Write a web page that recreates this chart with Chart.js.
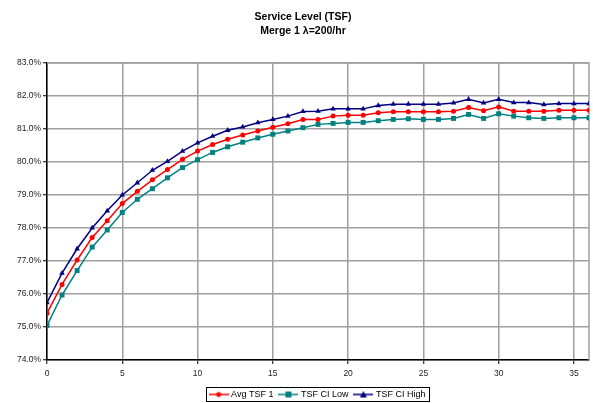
<!DOCTYPE html>
<html>
<head>
<meta charset="utf-8">
<script src="https://cdn.jsdelivr.net/npm/chart.js@4"></script>
<style>
  body { margin: 0; background: #fff; }
  #wrap { width: 593px; height: 403px; }
</style>
</head>
<body>
<div id="wrap"><canvas id="chart" width="593" height="403"></canvas></div>
<script>
// periods 0..36
const steps = [0,1,2,3,4,5,6,7,8,9,10,11,12,13,14,15,16,17,18,19,20,21,22,23,24,25,26,27,28,29,30,31,32,33,34,35,36];

const avgTsf = [75.42, 76.29, 77.03, 77.71, 78.22, 78.74, 79.11, 79.46, 79.77, 80.08, 80.33, 80.53, 80.69, 80.82, 80.94, 81.05, 81.16, 81.29, 81.29, 81.39, 81.42, 81.42, 81.49, 81.52, 81.52, 81.52, 81.52, 81.54, 81.65, 81.55, 81.67, 81.54, 81.54, 81.54, 81.57, 81.57, 81.57];
const ciLow = [75.05, 75.97, 76.71, 77.42, 77.94, 78.47, 78.87, 79.19, 79.52, 79.83, 80.07, 80.29, 80.46, 80.60, 80.73, 80.84, 80.94, 81.04, 81.14, 81.17, 81.20, 81.20, 81.25, 81.29, 81.31, 81.29, 81.29, 81.32, 81.44, 81.32, 81.46, 81.39, 81.34, 81.32, 81.34, 81.34, 81.34];
const ciHigh = [75.74, 76.63, 77.37, 78.00, 78.52, 79.00, 79.37, 79.75, 80.02, 80.33, 80.58, 80.78, 80.96, 81.06, 81.19, 81.29, 81.39, 81.53, 81.54, 81.61, 81.61, 81.61, 81.71, 81.75, 81.75, 81.75, 81.75, 81.79, 81.90, 81.79, 81.90, 81.80, 81.80, 81.74, 81.77, 81.77, 81.77];

const seriesNames = ['Avg TSF 1', 'TSF CI Low', 'TSF CI High'];
const yMin = 74, yMax = 83;
const xMax = 36;

// little line+marker icons for the legend (wider than the box so the line runs close to the text)
function legendIcon(color, shape) {
    const c = document.createElement('canvas');
    c.width = 20; c.height = 8;
    const g = c.getContext('2d');
    g.strokeStyle = color; g.fillStyle = color; g.lineWidth = 1.5;
    g.beginPath(); g.moveTo(0, 4); g.lineTo(20, 4); g.stroke();
    g.beginPath();
    if (shape === 'circle') g.arc(10, 4, 2.5, 0, Math.PI * 2);
    else if (shape === 'rect') g.rect(7, 1, 6, 6);
    else { g.moveTo(10, 0.5); g.lineTo(13.5, 7); g.lineTo(6.5, 7); g.closePath(); }
    g.fill();
    return c;
}

const toPts = arr => arr.map((v, i) => ({ x: steps[i], y: v }));

const plotFrame = {
    id: 'plotFrame',
    afterLayout(chart) {
        // centre legend under the plot area and nudge it down a bit
        const l = chart.legend, a = chart.chartArea;
        l.left = a.left; l.right = a.right;
        l.top += 6; l.bottom += 6;
    },
    beforeDatasetsDraw(chart) {
        const { ctx, chartArea: a } = chart;
        ctx.save();
        ctx.strokeStyle = '#a0a0a0';
        ctx.lineWidth = 1.5;
        ctx.beginPath();
        ctx.moveTo(a.left, a.top); ctx.lineTo(a.right, a.top); ctx.lineTo(a.right, a.bottom);
        ctx.stroke();
        ctx.restore();
    },
    afterDraw(chart) {
        const hb = chart.legend.legendHitBoxes;
        const ctx = chart.ctx;
        ctx.save();
        ctx.strokeStyle = '#000';
        ctx.lineWidth = 1;
        const x0 = hb[0].left - 5, x1 = hb[hb.length - 1].left + hb[hb.length - 1].width + 3;
        const y0 = hb[0].top - 3, y1 = hb[0].top + hb[0].height + 2;
        ctx.strokeRect(Math.round(x0) + 0.5, Math.round(y0) + 0.5, Math.round(x1 - x0), Math.round(y1 - y0));
        ctx.restore();
    }
};

const fam = 'Arial, "Liberation Sans", sans-serif';
const tickFont = { family: fam, size: 8.5 };

new Chart(document.getElementById('chart'), {
    type: 'line',
    data: {
        datasets: [
            { label: seriesNames[0], data: toPts(avgTsf), borderColor: '#ff0000', backgroundColor: '#ff0000',
              borderWidth: 1.5, pointStyle: 'circle', pointRadius: 2.5, pointBorderWidth: 0, icon: legendIcon('#ff0000', 'circle') },
            { label: seriesNames[1], data: toPts(ciLow), borderColor: '#008080', backgroundColor: '#008080',
              borderWidth: 1.5, pointStyle: 'rect', pointRadius: 3.5, pointBorderWidth: 0, icon: legendIcon('#008080', 'rect') },
            { label: seriesNames[2], data: toPts(ciHigh), borderColor: '#000080', backgroundColor: '#000080',
              borderWidth: 1.5, pointStyle: 'triangle', pointRadius: 3.2, pointBorderWidth: 0, icon: legendIcon('#000080', 'triangle') }
        ]
    },
    options: {
        responsive: false,
        animation: false,
        layout: { padding: { left: 16, right: 3, top: 0, bottom: 0 } },
        plugins: {
            title: {
                display: true,
                text: ['Service Level (TSF)', 'Merge 1 \u03bb=200/hr'],
                color: '#000',
                font: { family: fam, size: 10.5, weight: 'bold', lineHeight: 1.333 },
                padding: { top: 10, bottom: 25 }
            },
            legend: {
                position: 'bottom',
                labels: {
                    usePointStyle: true,
                    pointStyleWidth: 16,
                    padding: 7,
                    color: '#000',
                    font: { family: fam, size: 9 },
                    generateLabels: chart => chart.data.datasets.map((ds, i) => ({
                        text: ds.label, pointStyle: ds.icon, datasetIndex: i, lineWidth: 0,
                        fillStyle: ds.borderColor, strokeStyle: ds.borderColor, fontColor: '#000'
                    }))
                }
            },
            tooltip: { enabled: false }
        },
        scales: {
            x: {
                type: 'linear',
                min: 0, max: xMax,
                afterFit: s => { s.height = 17; },
                ticks: { stepSize: 5, includeBounds: false, color: '#222', font: tickFont, maxRotation: 0, padding: 5 },
                grid: { color: '#a0a0a0', lineWidth: 1.5, tickColor: '#000', tickLength: 4, tickWidth: 1 },
                border: { color: '#000', width: 1.5 }
            },
            y: {
                min: yMin, max: yMax,
                afterFit: s => { s.width = 31; },
                ticks: { stepSize: 1, color: '#222', font: tickFont, padding: 2, callback: v => v.toFixed(1) + '%' },
                grid: { color: '#a0a0a0', lineWidth: 1.5, tickColor: '#000', tickLength: 4, tickWidth: 1 },
                border: { color: '#000', width: 1.5 }
            }
        }
    },
    plugins: [plotFrame]
});
</script>
</body>
</html>
